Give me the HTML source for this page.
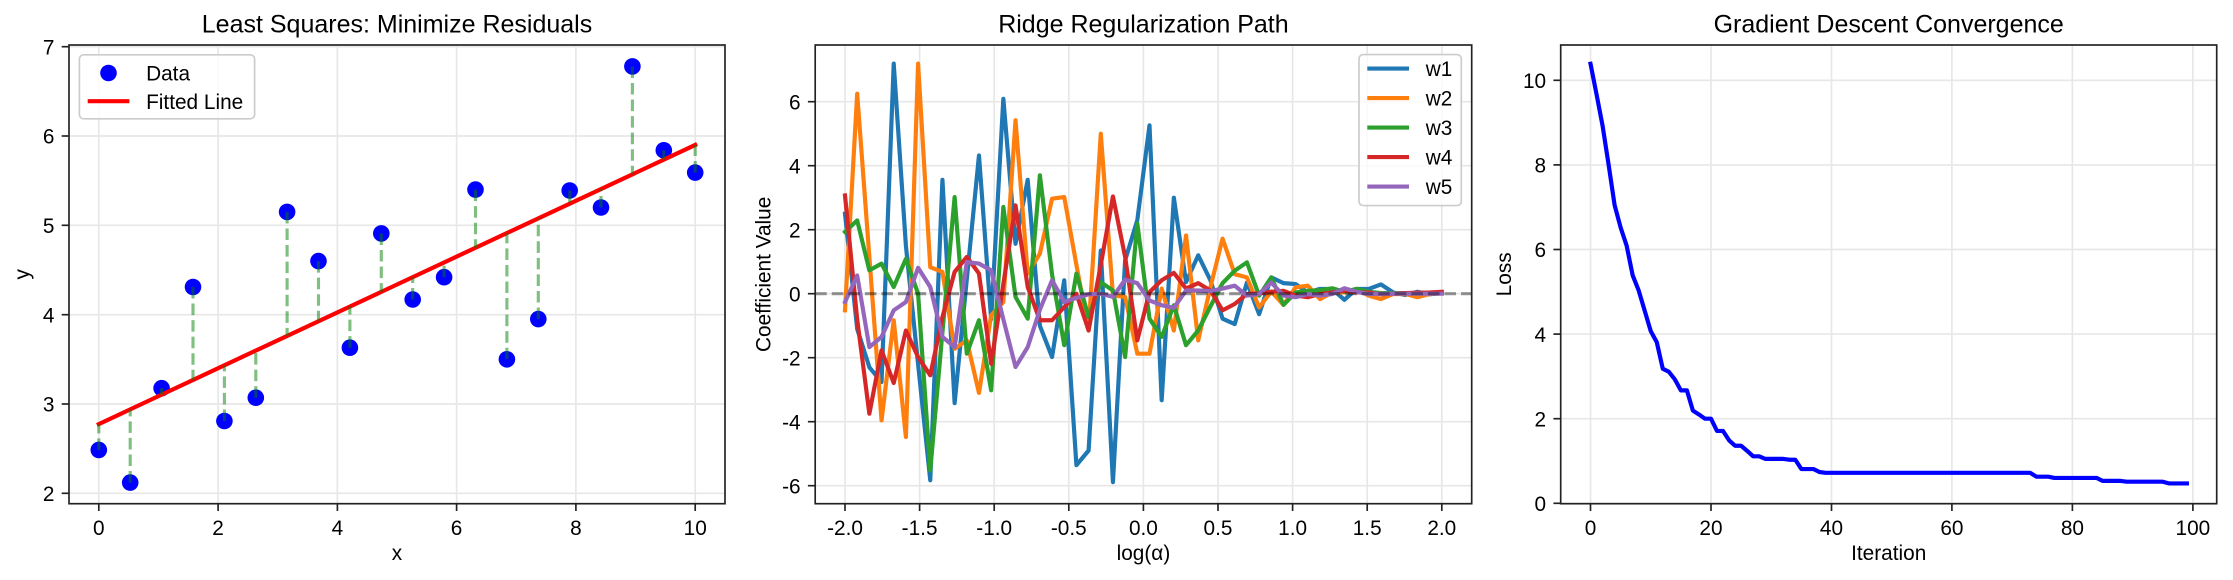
<!DOCTYPE html>
<html>
<head>
<meta charset="utf-8">
<style>
  html, body { margin: 0; padding: 0; background: #ffffff; }
  svg { display: block; }
  text { font-family: "Liberation Sans", Arial, sans-serif; fill: #000; }
</style>
</head>
<body>
<svg width="2233" height="580" viewBox="0 0 2233 580" xmlns="http://www.w3.org/2000/svg">
  <rect x="0" y="0" width="2233" height="580" fill="#ffffff"/>

  <!-- ================= PANEL 1 ================= -->
  <g stroke="#e7e7e7" stroke-width="1.67" fill="none">
    <line x1="98.8" y1="45" x2="98.8" y2="503.7"/>
    <line x1="218.1" y1="45" x2="218.1" y2="503.7"/>
    <line x1="337.4" y1="45" x2="337.4" y2="503.7"/>
    <line x1="456.6" y1="45" x2="456.6" y2="503.7"/>
    <line x1="575.9" y1="45" x2="575.9" y2="503.7"/>
    <line x1="695.2" y1="45" x2="695.2" y2="503.7"/>
    <line x1="69" y1="493.3" x2="725" y2="493.3"/>
    <line x1="69" y1="404.0" x2="725" y2="404.0"/>
    <line x1="69" y1="314.7" x2="725" y2="314.7"/>
    <line x1="69" y1="225.3" x2="725" y2="225.3"/>
    <line x1="69" y1="136.0" x2="725" y2="136.0"/>
    <line x1="69" y1="46.7" x2="725" y2="46.7"/>
  </g>

  <!-- scatter -->
  <g fill="#0000ff">
    <circle cx="98.8" cy="449.98" r="8.3"/>
    <circle cx="130.2" cy="482.6" r="8.3"/>
    <circle cx="161.6" cy="388.2" r="8.3"/>
    <circle cx="193.0" cy="287.0" r="8.3"/>
    <circle cx="224.4" cy="421.0" r="8.3"/>
    <circle cx="255.8" cy="397.7" r="8.3"/>
    <circle cx="287.1" cy="211.9" r="8.3"/>
    <circle cx="318.5" cy="261.1" r="8.3"/>
    <circle cx="349.9" cy="347.7" r="8.3"/>
    <circle cx="381.3" cy="233.4" r="8.3"/>
    <circle cx="412.7" cy="299.5" r="8.3"/>
    <circle cx="444.1" cy="277.2" r="8.3"/>
    <circle cx="475.5" cy="189.6" r="8.3"/>
    <circle cx="506.9" cy="359.3" r="8.3"/>
    <circle cx="538.3" cy="319.1" r="8.3"/>
    <circle cx="569.7" cy="190.5" r="8.3"/>
    <circle cx="601.0" cy="207.5" r="8.3"/>
    <circle cx="632.4" cy="66.4" r="8.3"/>
    <circle cx="663.8" cy="150.3" r="8.3"/>
    <circle cx="695.2" cy="172.6" r="8.3"/>
  </g>

  <!-- fitted line -->
  <line x1="98.8" y1="424.08" x2="695.2" y2="144.95" stroke="#ff0000" stroke-width="4.17" stroke-linecap="square"/>

  <!-- residuals -->
  <g stroke="#008000" stroke-opacity="0.5" stroke-width="3.125" stroke-dasharray="11.56 5" fill="none">
    <line x1="98.8" y1="449.98" x2="98.8" y2="424.08"/>
    <line x1="130.2" y1="482.6" x2="130.2" y2="409.39"/>
    <line x1="161.6" y1="388.2" x2="161.6" y2="394.70"/>
    <line x1="193.0" y1="287.0" x2="193.0" y2="380.01"/>
    <line x1="224.4" y1="421.0" x2="224.4" y2="365.32"/>
    <line x1="255.8" y1="397.7" x2="255.8" y2="350.63"/>
    <line x1="287.1" y1="211.9" x2="287.1" y2="335.93"/>
    <line x1="318.5" y1="261.1" x2="318.5" y2="321.24"/>
    <line x1="349.9" y1="347.7" x2="349.9" y2="306.55"/>
    <line x1="381.3" y1="233.4" x2="381.3" y2="291.86"/>
    <line x1="412.7" y1="299.5" x2="412.7" y2="277.17"/>
    <line x1="444.1" y1="277.2" x2="444.1" y2="262.48"/>
    <line x1="475.5" y1="189.6" x2="475.5" y2="247.79"/>
    <line x1="506.9" y1="359.3" x2="506.9" y2="233.10"/>
    <line x1="538.3" y1="319.1" x2="538.3" y2="218.41"/>
    <line x1="569.7" y1="190.5" x2="569.7" y2="203.72"/>
    <line x1="601.0" y1="207.5" x2="601.0" y2="189.03"/>
    <line x1="632.4" y1="66.4" x2="632.4" y2="174.33"/>
    <line x1="663.8" y1="150.3" x2="663.8" y2="159.64"/>
    <line x1="695.2" y1="172.6" x2="695.2" y2="144.95"/>
  </g>

  <!-- legend panel 1 -->
  <rect x="79.4" y="54.8" width="175.2" height="64" rx="4.2" ry="4.2" fill="#ffffff" fill-opacity="0.8" stroke="#cccccc" stroke-width="1.67"/>
  <circle cx="108.5" cy="73" r="8.3" fill="#0000ff"/>
  <line x1="87.7" y1="101.2" x2="129.4" y2="101.2" stroke="#ff0000" stroke-width="4.17"/>
  <text x="146.1" y="80.3" font-size="20.8">Data</text>
  <text x="146.1" y="108.8" font-size="20.8">Fitted Line</text>

  <!-- spines & ticks panel 1 -->
  <rect x="69" y="45" width="656" height="458.7" fill="none" stroke="#222" stroke-width="1.67"/>
  <g stroke="#222" stroke-width="1.67">
    <line x1="98.8" y1="503.7" x2="98.8" y2="511"/>
    <line x1="218.1" y1="503.7" x2="218.1" y2="511"/>
    <line x1="337.4" y1="503.7" x2="337.4" y2="511"/>
    <line x1="456.6" y1="503.7" x2="456.6" y2="511"/>
    <line x1="575.9" y1="503.7" x2="575.9" y2="511"/>
    <line x1="695.2" y1="503.7" x2="695.2" y2="511"/>
    <line x1="61.7" y1="493.3" x2="69" y2="493.3"/>
    <line x1="61.7" y1="404.0" x2="69" y2="404.0"/>
    <line x1="61.7" y1="314.7" x2="69" y2="314.7"/>
    <line x1="61.7" y1="225.3" x2="69" y2="225.3"/>
    <line x1="61.7" y1="136.0" x2="69" y2="136.0"/>
    <line x1="61.7" y1="46.7" x2="69" y2="46.7"/>
  </g>
  <g font-size="20.8" text-anchor="middle">
    <text x="98.8" y="535">0</text>
    <text x="218.1" y="535">2</text>
    <text x="337.4" y="535">4</text>
    <text x="456.6" y="535">6</text>
    <text x="575.9" y="535">8</text>
    <text x="695.2" y="535">10</text>
  </g>
  <g font-size="20.8" text-anchor="end">
    <text x="54.4" y="501">2</text>
    <text x="54.4" y="411.7">3</text>
    <text x="54.4" y="422.4" visibility="hidden">.</text>
    <text x="54.4" y="322.4">4</text>
    <text x="54.4" y="233">5</text>
    <text x="54.4" y="143.7">6</text>
    <text x="54.4" y="54.4">7</text>
  </g>
  <text x="397" y="32.5" font-size="25" text-anchor="middle">Least Squares: Minimize Residuals</text>
  <text x="397" y="560" font-size="20.8" text-anchor="middle">x</text>
  <text transform="translate(29,274.35) rotate(-90)" font-size="20.8" text-anchor="middle">y</text>

  <!-- ================= PANEL 2 ================= -->
  <g stroke="#e7e7e7" stroke-width="1.67" fill="none">
    <line x1="845" y1="45" x2="845" y2="503.7"/>
    <line x1="919.6" y1="45" x2="919.6" y2="503.7"/>
    <line x1="994.2" y1="45" x2="994.2" y2="503.7"/>
    <line x1="1068.8" y1="45" x2="1068.8" y2="503.7"/>
    <line x1="1143.4" y1="45" x2="1143.4" y2="503.7"/>
    <line x1="1218" y1="45" x2="1218" y2="503.7"/>
    <line x1="1292.6" y1="45" x2="1292.6" y2="503.7"/>
    <line x1="1367.2" y1="45" x2="1367.2" y2="503.7"/>
    <line x1="1441.8" y1="45" x2="1441.8" y2="503.7"/>
    <line x1="815.2" y1="485.7" x2="1471.7" y2="485.7"/>
    <line x1="815.2" y1="421.7" x2="1471.7" y2="421.7"/>
    <line x1="815.2" y1="357.7" x2="1471.7" y2="357.7"/>
    <line x1="815.2" y1="293.7" x2="1471.7" y2="293.7"/>
    <line x1="815.2" y1="229.7" x2="1471.7" y2="229.7"/>
    <line x1="815.2" y1="165.7" x2="1471.7" y2="165.7"/>
    <line x1="815.2" y1="101.7" x2="1471.7" y2="101.7"/>
  </g>

  <g transform="matrix(12.1796,0,0,-32,845,293.7)" fill="none" stroke-linejoin="round" stroke-linecap="square">
    <polyline vector-effect="non-scaling-stroke" stroke="#1f77b4" stroke-width="4.17" points="0,2.5 1,-1.1 2,-2.3 3,-2.76 4,7.19 5,1.5 6,-2.2 7,-5.83 8,3.56 9,-3.42 10,0.45 11,4.32 12,-0.8 13,6.09 14,1.56 15,3.56 16,-1.0 17,-1.98 18,0.42 19,-5.36 20,-4.9 21,1.35 22,-5.89 23,1.04 24,2.3 25,5.26 26,-3.33 27,3.0 28,0.36 29,1.2 30,0.42 31,-0.78 32,-0.95 33,0.35 34,-0.64 35,0.51 36,0.33 37,0.3 38,0.04 39,0.15 40,0.15 41,-0.19 42,0.15 43,0.15 44,0.29 45,0.04 46,-0.04 47,0.06 48,-0.02 49,0.02"/>
    <polyline vector-effect="non-scaling-stroke" stroke="#ff7f0e" stroke-width="4.17" points="0,-0.52 1,6.25 2,1.15 3,-3.96 4,-0.83 5,-4.48 6,7.19 7,0.83 8,0.68 9,-1.72 10,-1.46 11,-3.1 12,-0.68 13,-0.26 14,5.42 15,0.63 16,1.25 17,2.97 18,3.02 19,0.9 20,-1.15 21,5.0 22,-0.05 23,-0.1 24,-1.875 25,-1.875 26,0.16 27,-1.15 28,1.82 29,-1.46 30,0.2 31,1.72 32,0.61 33,0.51 34,-0.43 35,0.07 36,-0.35 37,0.2 38,0.25 39,-0.17 40,0.04 41,0.04 42,0.15 43,-0.06 44,-0.17 45,-0.01 46,-0.01 47,-0.11 48,-0.01 49,0.02"/>
    <polyline vector-effect="non-scaling-stroke" stroke="#2ca02c" stroke-width="4.17" points="0,1.93 1,2.29 2,0.73 3,0.94 4,0.21 5,1.09 6,0 7,-5.52 8,-1.2 9,3.02 10,-1.875 11,-0.83 12,-3.02 13,2.71 14,-0.1 15,-0.78 16,3.7 17,0.6 18,-1.61 19,0.63 20,-0.73 21,0.36 22,0.1 23,-1.98 24,2.19 25,-0.78 26,-1.35 27,-0.36 28,-1.61 29,-1.15 30,-0.4 31,0.33 32,0.72 33,0.98 34,-0.06 35,0.51 36,-0.35 37,0.04 38,0.09 39,0.11 40,0.17 41,0.06 42,0.15 43,0.06 44,0.02 45,0.02 46,0.02 47,0.02 48,0.02 49,0.02"/>
    <polyline vector-effect="non-scaling-stroke" stroke="#d62728" stroke-width="4.17" points="0,3.07 1,-0.8 2,-3.75 3,-1.77 4,-2.79 5,-1.15 6,-1.98 7,-2.55 8,-0.73 9,0.68 10,1.15 11,0.63 12,-2.19 13,0.3 14,2.76 15,0.21 16,-0.83 17,-0.83 18,-0.42 19,0 20,-1.15 21,0.9 22,3.04 23,1.15 24,-1.46 25,0.05 26,0.42 27,0.65 28,0.16 29,0.33 30,0.1 31,-0.52 32,-0.32 33,-0.01 34,0.01 35,0.06 36,0.09 37,-0.06 38,-0.11 39,-0.01 40,0.04 41,0.09 42,0.04 43,0.04 44,-0.02 45,0 46,0.02 47,0.03 48,0.04 49,0.06"/>
    <polyline vector-effect="non-scaling-stroke" stroke="#9467bd" stroke-width="4.17" points="0,-0.26 1,0.57 2,-1.67 3,-1.35 4,-0.52 5,-0.26 6,0.81 7,0.21 8,-1.35 9,-1.67 10,0.99 11,0.94 12,0.73 13,-0.8 14,-2.29 15,-1.67 16,-0.5 17,0.42 18,-0.26 19,-0.13 20,-0.02 21,0 22,-0.1 23,0.44 24,0.33 25,-0.21 26,-0.36 27,-0.44 28,0.1 29,0.1 30,0.08 31,0.16 32,0.25 33,-0.06 34,-0.01 35,0.35 36,-0.06 37,-0.11 38,-0.01 39,-0.06 40,-0.01 41,0.17 42,0.06 43,-0.01 44,0 45,0 46,0 47,0 48,0 49,0"/>
  </g>
  <line x1="815.2" y1="293.7" x2="1471.7" y2="293.7" stroke="#000" stroke-opacity="0.4" stroke-width="3.125" stroke-dasharray="11.56 5"/>

  <!-- legend panel 2 -->
  <rect x="1359" y="54.6" width="102.3" height="151" rx="4.2" ry="4.2" fill="#ffffff" fill-opacity="0.8" stroke="#cccccc" stroke-width="1.67"/>
  <g stroke-width="4.17">
    <line x1="1367.3" y1="68.6" x2="1409" y2="68.6" stroke="#1f77b4"/>
    <line x1="1367.3" y1="98.1" x2="1409" y2="98.1" stroke="#ff7f0e"/>
    <line x1="1367.3" y1="127.6" x2="1409" y2="127.6" stroke="#2ca02c"/>
    <line x1="1367.3" y1="157.1" x2="1409" y2="157.1" stroke="#d62728"/>
    <line x1="1367.3" y1="186.6" x2="1409" y2="186.6" stroke="#9467bd"/>
  </g>
  <g font-size="20.8">
    <text x="1425.7" y="76">w1</text>
    <text x="1425.7" y="105.5">w2</text>
    <text x="1425.7" y="135">w3</text>
    <text x="1425.7" y="164.5">w4</text>
    <text x="1425.7" y="194">w5</text>
  </g>

  <rect x="815.2" y="45" width="656.5" height="458.7" fill="none" stroke="#222" stroke-width="1.67"/>
  <g stroke="#222" stroke-width="1.67">
    <line x1="845" y1="503.7" x2="845" y2="511"/>
    <line x1="919.6" y1="503.7" x2="919.6" y2="511"/>
    <line x1="994.2" y1="503.7" x2="994.2" y2="511"/>
    <line x1="1068.8" y1="503.7" x2="1068.8" y2="511"/>
    <line x1="1143.4" y1="503.7" x2="1143.4" y2="511"/>
    <line x1="1218" y1="503.7" x2="1218" y2="511"/>
    <line x1="1292.6" y1="503.7" x2="1292.6" y2="511"/>
    <line x1="1367.2" y1="503.7" x2="1367.2" y2="511"/>
    <line x1="1441.8" y1="503.7" x2="1441.8" y2="511"/>
    <line x1="807.9" y1="485.7" x2="815.2" y2="485.7"/>
    <line x1="807.9" y1="421.7" x2="815.2" y2="421.7"/>
    <line x1="807.9" y1="357.7" x2="815.2" y2="357.7"/>
    <line x1="807.9" y1="293.7" x2="815.2" y2="293.7"/>
    <line x1="807.9" y1="229.7" x2="815.2" y2="229.7"/>
    <line x1="807.9" y1="165.7" x2="815.2" y2="165.7"/>
    <line x1="807.9" y1="101.7" x2="815.2" y2="101.7"/>
  </g>
  <g font-size="20.8" text-anchor="middle">
    <text x="845" y="535">-2.0</text>
    <text x="919.6" y="535">-1.5</text>
    <text x="994.2" y="535">-1.0</text>
    <text x="1068.8" y="535">-0.5</text>
    <text x="1143.4" y="535">0.0</text>
    <text x="1218" y="535">0.5</text>
    <text x="1292.6" y="535">1.0</text>
    <text x="1367.2" y="535">1.5</text>
    <text x="1441.8" y="535">2.0</text>
  </g>
  <g font-size="20.8" text-anchor="end">
    <text x="800.6" y="493.4">-6</text>
    <text x="800.6" y="429.4">-4</text>
    <text x="800.6" y="365.4">-2</text>
    <text x="800.6" y="301.4">0</text>
    <text x="800.6" y="237.4">2</text>
    <text x="800.6" y="173.4">4</text>
    <text x="800.6" y="109.4">6</text>
  </g>
  <text x="1143.45" y="32.5" font-size="25" text-anchor="middle">Ridge Regularization Path</text>
  <text x="1143.45" y="560" font-size="20.8" text-anchor="middle">log(α)</text>
  <text transform="translate(770.5,274.35) rotate(-90)" font-size="20.8" text-anchor="middle">Coefficient Value</text>

  <!-- ================= PANEL 3 ================= -->
  <g stroke="#e7e7e7" stroke-width="1.67" fill="none">
    <line x1="1590.5" y1="45" x2="1590.5" y2="503.7"/>
    <line x1="1711.0" y1="45" x2="1711.0" y2="503.7"/>
    <line x1="1831.5" y1="45" x2="1831.5" y2="503.7"/>
    <line x1="1951.9" y1="45" x2="1951.9" y2="503.7"/>
    <line x1="2072.4" y1="45" x2="2072.4" y2="503.7"/>
    <line x1="2192.9" y1="45" x2="2192.9" y2="503.7"/>
    <line x1="1560.7" y1="503.3" x2="2216.7" y2="503.3"/>
    <line x1="1560.7" y1="418.7" x2="2216.7" y2="418.7"/>
    <line x1="1560.7" y1="334.1" x2="2216.7" y2="334.1"/>
    <line x1="1560.7" y1="249.5" x2="2216.7" y2="249.5"/>
    <line x1="1560.7" y1="164.9" x2="2216.7" y2="164.9"/>
    <line x1="1560.7" y1="80.3" x2="2216.7" y2="80.3"/>
  </g>
  <g transform="matrix(6.024,0,0,-42.3,1590.5,503.3)" fill="none" stroke-linejoin="round" stroke-linecap="square">
    <polyline vector-effect="non-scaling-stroke" stroke="#0000ff" stroke-width="4.17" points="0,10.39 1,9.67 2,8.93 3,8.01 4,7.05 5,6.52 6,6.09 7,5.39 8,5.03 9,4.55 10,4.07 11,3.81 12,3.18 13,3.11 14,2.93 15,2.67 16,2.67 17,2.19 18,2.1 19,2.0 20,2.0 21,1.71 22,1.71 23,1.49 24,1.36 25,1.36 26,1.24 27,1.11 28,1.11 29,1.05 32,1.05 33,1.03 34,1.03 35,0.81 37,0.81 38,0.74 39,0.72 73,0.72 74,0.63 76,0.63 77,0.6 84,0.6 85,0.53 88,0.53 89,0.51 95,0.51 96,0.47 99,0.47"/>
  </g>
  <rect x="1560.7" y="45" width="656" height="458.7" fill="none" stroke="#222" stroke-width="1.67"/>
  <g stroke="#222" stroke-width="1.67">
    <line x1="1590.5" y1="503.7" x2="1590.5" y2="511"/>
    <line x1="1711.0" y1="503.7" x2="1711.0" y2="511"/>
    <line x1="1831.5" y1="503.7" x2="1831.5" y2="511"/>
    <line x1="1951.9" y1="503.7" x2="1951.9" y2="511"/>
    <line x1="2072.4" y1="503.7" x2="2072.4" y2="511"/>
    <line x1="2192.9" y1="503.7" x2="2192.9" y2="511"/>
    <line x1="1553.4" y1="503.3" x2="1560.7" y2="503.3"/>
    <line x1="1553.4" y1="418.7" x2="1560.7" y2="418.7"/>
    <line x1="1553.4" y1="334.1" x2="1560.7" y2="334.1"/>
    <line x1="1553.4" y1="249.5" x2="1560.7" y2="249.5"/>
    <line x1="1553.4" y1="164.9" x2="1560.7" y2="164.9"/>
    <line x1="1553.4" y1="80.3" x2="1560.7" y2="80.3"/>
  </g>
  <g font-size="20.8" text-anchor="middle">
    <text x="1590.5" y="535">0</text>
    <text x="1711.0" y="535">20</text>
    <text x="1831.5" y="535">40</text>
    <text x="1951.9" y="535">60</text>
    <text x="2072.4" y="535">80</text>
    <text x="2192.9" y="535">100</text>
  </g>
  <g font-size="20.8" text-anchor="end">
    <text x="1546.1" y="511">0</text>
    <text x="1546.1" y="426.4">2</text>
    <text x="1546.1" y="341.8">4</text>
    <text x="1546.1" y="257.2">6</text>
    <text x="1546.1" y="172.6">8</text>
    <text x="1546.1" y="88">10</text>
  </g>
  <text x="1888.7" y="32.5" font-size="25" text-anchor="middle">Gradient Descent Convergence</text>
  <text x="1888.7" y="560" font-size="20.8" text-anchor="middle">Iteration</text>
  <text transform="translate(1511,274.35) rotate(-90)" font-size="20.8" text-anchor="middle">Loss</text>
</svg>
</body>
</html>
